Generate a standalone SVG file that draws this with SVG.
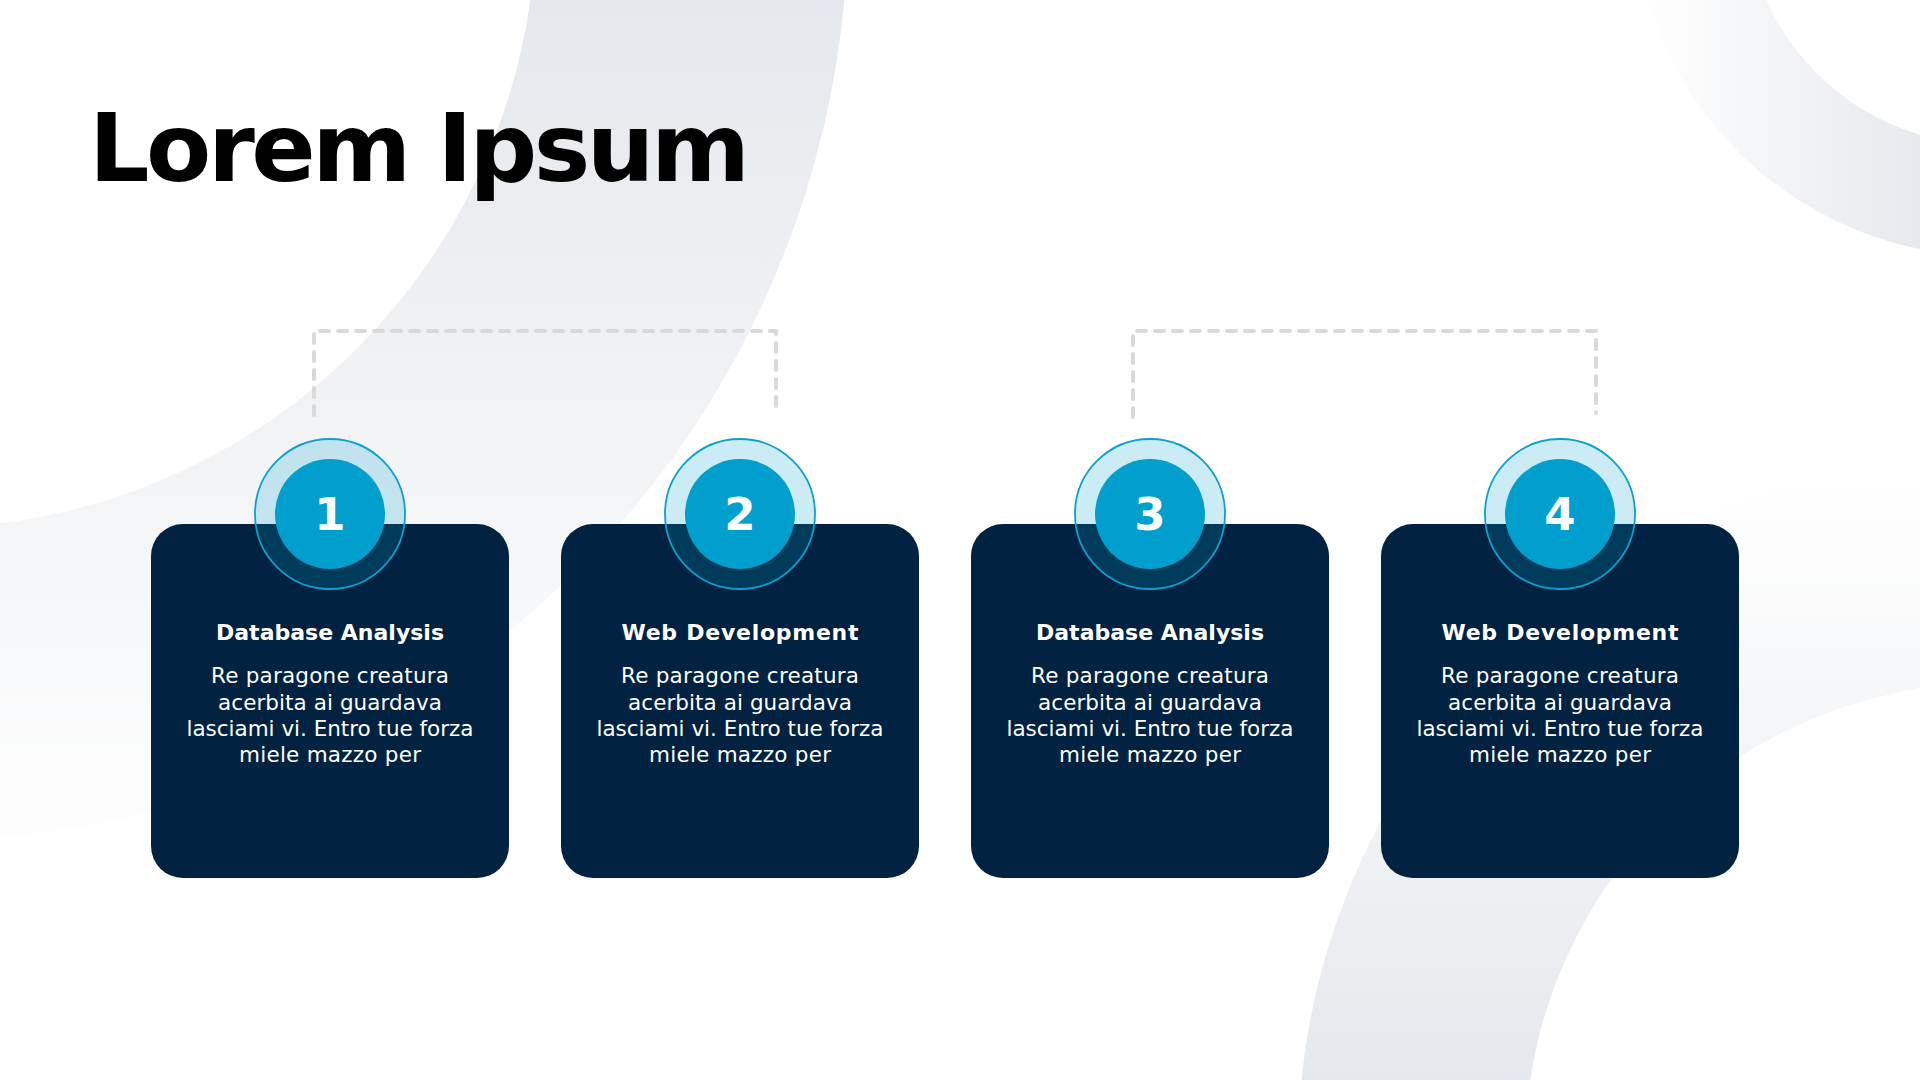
<svg xmlns="http://www.w3.org/2000/svg" width="1920" height="1080" viewBox="0 0 1920 1080">
  <defs>
    <linearGradient id="gTL" gradientUnits="userSpaceOnUse" x1="0" y1="0" x2="0" y2="900">
      <stop offset="0" stop-color="#E5E8EC"/>
      <stop offset="1" stop-color="#FFFFFF"/>
    </linearGradient>
    <linearGradient id="gTR" gradientUnits="userSpaceOnUse" x1="1640" y1="0" x2="1920" y2="0">
      <stop offset="0" stop-color="#FFFFFF"/>
      <stop offset="1" stop-color="#E6E9ED"/>
    </linearGradient>
    <linearGradient id="gBR" gradientUnits="userSpaceOnUse" x1="0" y1="480" x2="0" y2="1080">
      <stop offset="0" stop-color="#FFFFFF"/>
      <stop offset="1" stop-color="#E5E8EC"/>
    </linearGradient>
    <style>
      .card { fill: #012240; }
      .ring { fill: #00A0CF; fill-opacity: 0.2; stroke: #0AA0D0; stroke-width: 1.8; }
      .core { fill: #009FCD; }
      .num { font-family: "DejaVu Sans", "Liberation Sans", sans-serif; font-weight: bold; font-size: 45px; fill: #FFFFFF; text-anchor: middle; }
      .ttl { font-family: "DejaVu Sans", "Liberation Sans", sans-serif; font-weight: bold; font-size: 22px; fill: #FFFFFF; text-anchor: middle; }
      .body { font-family: "DejaVu Sans", "Liberation Sans", sans-serif; font-size: 21.5px; fill: #FFFFFF; text-anchor: middle; }
      .dash { fill: none; stroke: #D9D9D9; stroke-width: 4; stroke-linecap: round; stroke-linejoin: round; stroke-dasharray: 9 9; }
      .head { font-family: "DejaVu Sans", "Liberation Sans", sans-serif; font-weight: bold; font-size: 95px; fill: #000000; }
    </style>
  </defs>

  <g id="background">
    <rect x="0" y="0" width="1920" height="1080" fill="#FFFFFF"/>
    <circle cx="-76" cy="-84" r="768" fill="none" stroke="url(#gTL)" stroke-width="312"/>
    <circle cx="1990" cy="-100" r="300.5" fill="none" stroke="url(#gTR)" stroke-width="111"/>
    <circle cx="1992" cy="1150" r="580.5" fill="none" stroke="url(#gBR)" stroke-width="227"/>
  </g>

  <g id="title">
    <text class="head" x="89" y="181" textLength="661">Lorem Ipsum</text>
  </g>

  <g id="connectors">
    <path class="dash" d="M314,415 V331 H776 V413"/>
    <path class="dash" d="M1133,417 V331 H1596 V413"/>
  </g>

  <g id="node1">
    <rect class="card" x="151" y="524" width="358" height="354" rx="32"/>
    <circle class="ring" cx="330" cy="514" r="75"/>
    <circle class="core" cx="330" cy="514" r="55"/>
    <text class="num" x="330" y="530">1</text>
    <text class="ttl" x="330" y="640" textLength="228">Database Analysis</text>
    <text class="body" x="330" y="683" textLength="238">Re paragone creatura</text>
    <text class="body" x="330" y="709.5" textLength="224">acerbita ai guardava</text>
    <text class="body" x="330" y="736" textLength="287">lasciami vi. Entro tue forza</text>
    <text class="body" x="330" y="762" textLength="182">miele mazzo per</text>
  </g>

  <g id="node2">
    <rect class="card" x="561" y="524" width="358" height="354" rx="32"/>
    <circle class="ring" cx="740" cy="514" r="75"/>
    <circle class="core" cx="740" cy="514" r="55"/>
    <text class="num" x="740" y="530">2</text>
    <text class="ttl" x="740" y="640" textLength="237">Web Development</text>
    <text class="body" x="740" y="683" textLength="238">Re paragone creatura</text>
    <text class="body" x="740" y="709.5" textLength="224">acerbita ai guardava</text>
    <text class="body" x="740" y="736" textLength="287">lasciami vi. Entro tue forza</text>
    <text class="body" x="740" y="762" textLength="182">miele mazzo per</text>
  </g>

  <g id="node3">
    <rect class="card" x="971" y="524" width="358" height="354" rx="32"/>
    <circle class="ring" cx="1150" cy="514" r="75"/>
    <circle class="core" cx="1150" cy="514" r="55"/>
    <text class="num" x="1150" y="530">3</text>
    <text class="ttl" x="1150" y="640" textLength="228">Database Analysis</text>
    <text class="body" x="1150" y="683" textLength="238">Re paragone creatura</text>
    <text class="body" x="1150" y="709.5" textLength="224">acerbita ai guardava</text>
    <text class="body" x="1150" y="736" textLength="287">lasciami vi. Entro tue forza</text>
    <text class="body" x="1150" y="762" textLength="182">miele mazzo per</text>
  </g>

  <g id="node4">
    <rect class="card" x="1381" y="524" width="358" height="354" rx="32"/>
    <circle class="ring" cx="1560" cy="514" r="75"/>
    <circle class="core" cx="1560" cy="514" r="55"/>
    <text class="num" x="1560" y="530">4</text>
    <text class="ttl" x="1560" y="640" textLength="237">Web Development</text>
    <text class="body" x="1560" y="683" textLength="238">Re paragone creatura</text>
    <text class="body" x="1560" y="709.5" textLength="224">acerbita ai guardava</text>
    <text class="body" x="1560" y="736" textLength="287">lasciami vi. Entro tue forza</text>
    <text class="body" x="1560" y="762" textLength="182">miele mazzo per</text>
  </g>
</svg>
